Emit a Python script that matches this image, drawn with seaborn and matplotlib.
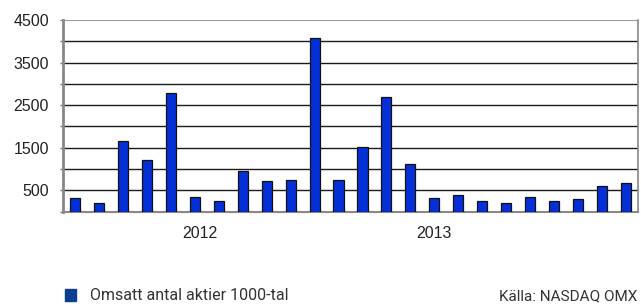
import numpy as np
import pandas as pd
import matplotlib
matplotlib.use("Agg")
import matplotlib.pyplot as plt
import seaborn as sns

# data (monthly volumes, thousands of shares)
months = [f"{y}-{m:02d}" for y in (2012, 2013) for m in range(1, 13)]
volumes = [315, 200, 1660, 1215, 2785, 355, 245, 950, 730, 745, 4085, 745,
           1510, 2685, 1115, 315, 385, 245, 200, 340, 245, 300, 605, 665]
year_labels = ["2012", "2013"]
year_pos = [5.2, 15.0]
ytick_vals = list(range(0, 5000, 500))

df = pd.DataFrame({"month": months, "volume": volumes})

sns.set_style("white")
plt.rcParams["font.family"] = ["Liberation Sans", "DejaVu Sans"]

fig = plt.figure(figsize=(6.41, 3.07), dpi=100)
ax = fig.add_axes([63 / 641, 1 - 211.7 / 307, (638 - 63) / 641, (211.7 - 20) / 307])

sns.barplot(data=df, x="month", y="volume", color="#0530d8", width=0.42,
            edgecolor="#111111", linewidth=0.9, saturation=1, ax=ax, zorder=3)

ax.set_ylim(0, 4500)
ax.set_xlim(-0.5, len(months) - 0.5)
ax.set_yticks(ytick_vals)
ax.set_yticklabels(["" if v % 1000 == 0 else str(v) for v in ytick_vals])
for v in ytick_vals[1:-1]:
    ax.axhline(v, color="#1a1a1a", lw=1, zorder=1)
ax.axhline(4500, color="#999999", lw=1.5, zorder=1)

ax.set_xticks(year_pos)
ax.set_xticklabels(year_labels)
ax.tick_params(axis="x", length=0, pad=10, labelsize=11.5, labelcolor="#222222")
ax.tick_params(axis="y", length=2, width=1, color="#777777", pad=8,
               labelsize=11.5, labelcolor="#222222", left=True)
ax.set_xlabel("")
ax.set_ylabel("")

for side in ["left", "right", "bottom"]:
    ax.spines[side].set_visible(True)
    ax.spines[side].set_color("#888888")
ax.spines["left"].set_linewidth(2)
ax.spines["bottom"].set_linewidth(1.5)
ax.spines["right"].set_linewidth(1.2)
ax.spines["top"].set_visible(False)

# legend and source
fig.patches.append(plt.Rectangle((65 / 641, 1 - 301 / 307), 11 / 641, 12 / 307,
                                 transform=fig.transFigure, color="#0d3d8e"))
fig.text(90 / 641, 1 - 296 / 307, "Omsatt antal aktier 1000-tal", fontsize=11.5,
         family=["Roboto", "DejaVu Sans"], color="#333333", va="center", ha="left")
fig.text(637 / 641, 1 - 296 / 307, "Källa: NASDAQ OMX", fontsize=11,
         family=["Roboto", "DejaVu Sans"], color="#333333", va="center", ha="right")

fig.savefig("out.png", dpi=100)
